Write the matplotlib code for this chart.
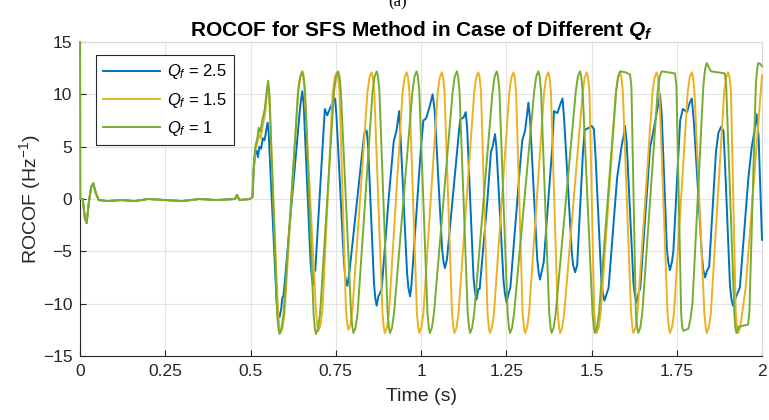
import matplotlib
matplotlib.use("Agg")
import matplotlib.pyplot as plt

plt.rcParams['font.family'] = ['Liberation Sans', 'DejaVu Sans']
plt.rcParams['mathtext.fontset'] = 'custom'
plt.rcParams['mathtext.rm'] = 'Liberation Sans'
plt.rcParams['mathtext.it'] = 'Liberation Sans:italic'
plt.rcParams['mathtext.bf'] = 'Liberation Sans:bold'
plt.rcParams['mathtext.bfit'] = 'Liberation Sans:bold:italic'

# ---------------- data (time in s, ROCOF in Hz^-1) ----------------
early = [(0.008, 0.0), (0.014, -1.8), (0.0195, -2.3), (0.026, -0.3), (0.033, 1.2),
         (0.039, 1.5), (0.046, 0.6), (0.055, -0.1), (0.080, -0.2), (0.120, -0.1),
         (0.160, -0.2), (0.200, 0.0), (0.250, -0.1), (0.300, -0.2), (0.350, 0.0),
         (0.400, -0.1), (0.455, 0.0), (0.460, 0.4), (0.468, -0.1), (0.4985, 0.0),
         (0.506, 0.2)]

qf25_points = [(0.000, 0.0)] + early + [
    (0.509, 2.5), (0.513, 4.2), (0.518, 4.6), (0.522, 4.0), (0.526, 5.0), (0.531, 4.8),
    (0.536, 5.8), (0.541, 5.6), (0.546, 6.5), (0.550, 7.3), (0.553, 6.5),
    (0.576, -9.5), (0.580, -10.8), (0.585, -11.3), (0.590, -10.5), (0.593, -9.5), (0.597, -9.2),
    (0.642, 7.5), (0.647, 9.2), (0.652, 10.3), (0.656, 9.0),
    (0.676, -6.0), (0.680, -7.5), (0.683, -8.2), (0.686, -7.0), (0.690, -6.8),
    (0.718, 8.6), (0.725, 8.0), (0.735, 8.8), (0.748, 9.6), (0.752, 8.0),
    (0.774, -6.0), (0.778, -7.5), (0.784, -8.3), (0.790, -7.0),
    (0.832, 5.8), (0.836, 6.6), (0.841, 6.5), (0.845, 5.0),
    (0.862, -8.0), (0.866, -9.5), (0.870, -10.2), (0.875, -9.3), (0.880, -9.0), (0.885, -8.5),
    (0.905, 0.0), (0.920, 5.5), (0.928, 6.5), (0.936, 8.4), (0.940, 6.0),
    (0.959, -7.0), (0.963, -8.5), (0.968, -9.3), (0.972, -8.2),
    (1.000, 5.0), (1.007, 7.5), (1.015, 7.7), (1.025, 8.8), (1.034, 10.0), (1.040, 8.5),
    (1.062, -4.8), (1.066, -6.0), (1.070, -6.6), (1.076, -5.8),
    (1.110, 6.0), (1.115, 7.6), (1.125, 7.8), (1.131, 8.3), (1.135, 7.0),
    (1.154, -7.5), (1.158, -8.8), (1.163, -9.6), (1.168, -8.6), (1.172, -8.6),
    (1.195, 0.0), (1.205, 4.5), (1.210, 5.0), (1.217, 6.2), (1.221, 5.0),
    (1.242, -7.8), (1.246, -9.0), (1.251, -9.9), (1.257, -9.0), (1.262, -8.5),
    (1.290, 3.0), (1.297, 5.6), (1.305, 6.5), (1.315, 9.2), (1.320, 7.5),
    (1.341, -5.8), (1.345, -7.0), (1.349, -7.7), (1.355, -6.8), (1.360, -6.0),
    (1.385, 5.0), (1.390, 8.4), (1.400, 8.2), (1.408, 9.0), (1.415, 9.6), (1.420, 7.5),
    (1.442, -5.0), (1.446, -6.3), (1.452, -7.0), (1.458, -6.3),
    (1.475, 4.5), (1.480, 6.6), (1.492, 6.8), (1.500, 7.0), (1.507, 6.7), (1.512, 4.0),
    (1.529, -7.8), (1.533, -9.0), (1.538, -9.7), (1.545, -9.0), (1.550, -8.5),
    (1.575, 2.0), (1.588, 5.0), (1.594, 6.0), (1.598, 7.0), (1.603, 5.5),
    (1.623, -8.0), (1.627, -9.2), (1.632, -9.9), (1.638, -9.0), (1.643, -8.5),
    (1.672, 5.0), (1.680, 6.2), (1.690, 8.0), (1.701, 10.0), (1.706, 8.0),
    (1.721, -4.8), (1.725, -6.0), (1.730, -6.8), (1.736, -6.0), (1.740, -5.0),
    (1.760, 7.5), (1.768, 8.6), (1.780, 8.3), (1.788, 9.2), (1.794, 9.6), (1.800, 7.5),
    (1.824, -5.5), (1.828, -6.8), (1.833, -7.5), (1.839, -6.8), (1.845, -6.5),
    (1.865, 4.5), (1.872, 6.3), (1.880, 6.9), (1.887, 6.5), (1.892, 3.0),
    (1.906, -8.2), (1.910, -9.5), (1.915, -10.2), (1.921, -9.6), (1.928, -9.0), (1.935, -8.5),
    (1.960, 2.0), (1.970, 5.0), (1.978, 6.5), (1.984, 8.1), (1.990, 6.0), (2.000, -3.9)]

qf15_points = [(0.000, 0.0)] + early + [
    (0.509, 2.8), (0.514, 4.6), (0.520, 5.4), (0.525, 6.2), (0.530, 5.8), (0.536, 7.0),
    (0.543, 8.2), (0.548, 10.0), (0.551, 10.8), (0.555, 9.5),
    (0.581, -10.9), (0.585, -12.3), (0.588, -12.8), (0.594, -12.3), (0.600, -10.9),
    (0.639, 10.2), (0.645, 11.6), (0.651, 12.1), (0.655, 11.6), (0.659, 10.2),
    (0.692, -10.7), (0.696, -12.1), (0.699, -12.6), (0.705, -12.1), (0.711, -10.7),
    (0.741, 10.2), (0.747, 11.6), (0.753, 12.1), (0.757, 11.6), (0.761, 10.2),
    (0.780, -10.6), (0.784, -12.0), (0.787, -12.5), (0.793, -12.0), (0.799, -10.6),
    (0.843, 10.2), (0.849, 11.6), (0.855, 12.1), (0.859, 11.6), (0.863, 10.2),
    (0.887, -10.9), (0.891, -12.3), (0.894, -12.8), (0.900, -12.3), (0.906, -10.9),
    (0.946, 10.2), (0.952, 11.6), (0.958, 12.1), (0.962, 11.6), (0.966, 10.2),
    (0.988, -10.9), (0.992, -12.3), (0.995, -12.8), (1.001, -12.3), (1.007, -10.9),
    (1.049, 10.2), (1.055, 11.6), (1.061, 12.1), (1.065, 11.6), (1.069, 10.2),
    (1.091, -10.9), (1.095, -12.3), (1.098, -12.8), (1.104, -12.3), (1.110, -10.9),
    (1.156, 10.2), (1.162, 11.6), (1.168, 12.1), (1.172, 11.6), (1.176, 10.2),
    (1.195, -10.9), (1.199, -12.3), (1.202, -12.8), (1.208, -12.3), (1.214, -10.9),
    (1.259, 10.2), (1.265, 11.6), (1.271, 12.1), (1.275, 11.6), (1.279, 10.2),
    (1.298, -10.9), (1.302, -12.3), (1.305, -12.8), (1.311, -12.3), (1.317, -10.9),
    (1.361, 10.2), (1.367, 11.6), (1.373, 12.1), (1.377, 11.6), (1.381, 10.2),
    (1.401, -10.9), (1.405, -12.3), (1.408, -12.8), (1.414, -12.3), (1.420, -10.9),
    (1.474, 10.2), (1.480, 11.6), (1.486, 12.1), (1.490, 11.6), (1.494, 10.2),
    (1.508, -10.9), (1.512, -12.3), (1.515, -12.8), (1.521, -12.3), (1.527, -10.9),
    (1.572, 10.2), (1.578, 11.6), (1.584, 12.1), (1.588, 11.6), (1.592, 10.2),
    (1.616, -10.9), (1.620, -12.3), (1.623, -12.8), (1.629, -12.3), (1.635, -10.9),
    (1.679, 10.2), (1.685, 11.6), (1.691, 12.1), (1.695, 11.6), (1.699, 10.2),
    (1.723, -10.9), (1.727, -12.3), (1.730, -12.8), (1.736, -12.3), (1.742, -10.9),
    (1.782, 10.2), (1.788, 11.6), (1.794, 12.1), (1.798, 11.6), (1.802, 10.2),
    (1.831, -10.9), (1.835, -12.3), (1.838, -12.8), (1.844, -12.3), (1.850, -10.9),
    (1.889, 10.2), (1.895, 11.6), (1.901, 12.1), (1.905, 11.6), (1.909, 10.2),
    (1.923, -10.9), (1.927, -12.3), (1.930, -12.8), (1.936, -12.3), (1.942, -10.9),
    (1.952, -8.5), (2.000, 11.8)]

qf1_points = [(0.000, 15.0), (0.001, 0.0)] + early + [
    (0.509, 3.0), (0.514, 5.0), (0.520, 5.8), (0.524, 6.8), (0.529, 6.4), (0.535, 7.6),
    (0.542, 8.6), (0.548, 10.5), (0.552, 11.3), (0.556, 9.8),
    (0.578, -11.0), (0.582, -12.4), (0.585, -12.9), (0.591, -12.4), (0.597, -11.0),
    (0.640, 10.3), (0.646, 11.7), (0.652, 12.2), (0.656, 11.7), (0.660, 10.3),
    (0.685, -11.0), (0.689, -12.4), (0.692, -12.9), (0.698, -12.4), (0.704, -11.0),
    (0.745, 10.3), (0.751, 11.7), (0.757, 12.2), (0.761, 11.7), (0.765, 10.3),
    (0.795, -10.9), (0.799, -12.3), (0.802, -12.8), (0.808, -12.3), (0.814, -10.9),
    (0.858, 10.3), (0.864, 11.7), (0.870, 12.2), (0.874, 11.7), (0.878, 10.3),
    (0.902, -10.9), (0.906, -12.3), (0.909, -12.8), (0.915, -12.3), (0.921, -10.9),
    (0.975, 10.3), (0.981, 11.7), (0.987, 12.2), (0.991, 11.7), (0.995, 10.3),
    (1.019, -10.9), (1.023, -12.3), (1.026, -12.8), (1.032, -12.3), (1.038, -10.9),
    (1.093, 10.3), (1.099, 11.7), (1.105, 12.2), (1.109, 11.7), (1.113, 10.3),
    (1.137, -10.9), (1.141, -12.3), (1.144, -12.8), (1.150, -12.3), (1.156, -10.9),
    (1.210, 10.3), (1.216, 11.7), (1.222, 12.2), (1.226, 11.7), (1.230, 10.3),
    (1.254, -10.9), (1.258, -12.3), (1.261, -12.8), (1.267, -12.3), (1.273, -10.9),
    (1.332, 10.3), (1.338, 11.7), (1.344, 12.2), (1.348, 11.7), (1.352, 10.3),
    (1.376, -10.9), (1.380, -12.3), (1.383, -12.8), (1.389, -12.3), (1.395, -10.9),
    (1.454, 10.3), (1.460, 11.7), (1.466, 12.2), (1.470, 11.7), (1.474, 10.3),
    (1.503, -10.9), (1.507, -12.3), (1.510, -12.8), (1.516, -12.3), (1.522, -10.9),
    (1.572, 10.3), (1.578, 11.7), (1.584, 12.2), (1.600, 12.1), (1.613, 11.9), (1.617, 10.8),
    (1.630, -10.9), (1.634, -12.3), (1.637, -12.8), (1.643, -12.3), (1.649, -10.9),
    (1.694, 10.3), (1.700, 11.7), (1.706, 12.2), (1.725, 12.1), (1.745, 12.0), (1.749, 10.8),
    (1.763, -11.0), (1.766, -12.2), (1.769, -12.6), (1.784, -12.4), (1.790, -11.5), (1.796, -10.0),
    (1.828, 10.8), (1.833, 12.4), (1.838, 13.0), (1.850, 12.2), (1.891, 12.0), (1.895, 10.8),
    (1.919, -11.0), (1.922, -12.3), (1.925, -12.8), (1.932, -12.2), (1.959, -12.0), (1.963, -10.8),
    (1.982, 11.0), (1.986, 12.5), (1.989, 13.0), (1.995, 12.9), (2.000, 12.7)]

series_labels = [r'$Q_f$ = 2.5', r'$Q_f$ = 1.5', r'$Q_f$ = 1']
series_colors = ['#0072BD', '#EDB120', '#77AC30']
x_ticks = [0, 0.25, 0.5, 0.75, 1, 1.25, 1.5, 1.75, 2]
x_ticklabels = ['0', '0.25', '0.5', '0.75', '1', '1.25', '1.5', '1.75', '2']
y_ticks = [-15, -10, -5, 0, 5, 10, 15]

# ---------------- figure ----------------
fig = plt.figure(figsize=(7.69, 4.20), dpi=100)
ax = fig.add_axes([80 / 769, 1 - 356 / 420, 682 / 769, 314 / 420])

for pts, lab, col in zip([qf25_points, qf15_points, qf1_points], series_labels, series_colors):
    t, v = zip(*pts)
    ax.plot(t, v, color=col, lw=1.4, label=lab, zorder=3, clip_on=False)

ax.set_xlim(0, 2)
ax.set_ylim(-15, 15)
ax.set_xticks(x_ticks)
ax.set_xticklabels(x_ticklabels)
ax.set_yticks(y_ticks)
ax.grid(True, color='#e3e3e3', lw=0.8)
ax.set_axisbelow(True)
ax.tick_params(direction='in', length=4, width=0.8, colors='#262626',
               labelsize=12.5, labelcolor='#262626', top=False, right=False)
ax.tick_params(axis='x', pad=6)
ax.tick_params(axis='y', pad=5.5)
for side in ['left', 'bottom']:
    ax.spines[side].set_color('#262626')
    ax.spines[side].set_linewidth(0.8)
for side in ['top', 'right']:
    ax.spines[side].set_color('#d9d9d9')
    ax.spines[side].set_linewidth(0.8)

ax.set_xlabel('Time (s)', fontsize=14, color='#262626', labelpad=6)
ax.set_ylabel(r'ROCOF (Hz$^{-1}$)', fontsize=14, color='#262626', labelpad=0)
ax.set_title(r'ROCOF for SFS Method in Case of Different $\mathbfit{Q}_{\mathbfit{f}}$',
             fontsize=15, fontweight='bold', color='black', pad=3)
fig.text(0.517, 1 - 2 / 420, '(a)', family='Liberation Serif', fontsize=12,
         ha='center', va='center')

leg = ax.legend(loc='upper left', bbox_to_anchor=(0.023, 0.959), borderaxespad=0,
                fontsize=12, handlelength=3.4, handletextpad=0.4, labelspacing=0.55,
                borderpad=0.45, fancybox=False, framealpha=1, edgecolor='#262626')
leg.get_frame().set_linewidth(0.8)

fig.savefig('out.png', dpi=100)
